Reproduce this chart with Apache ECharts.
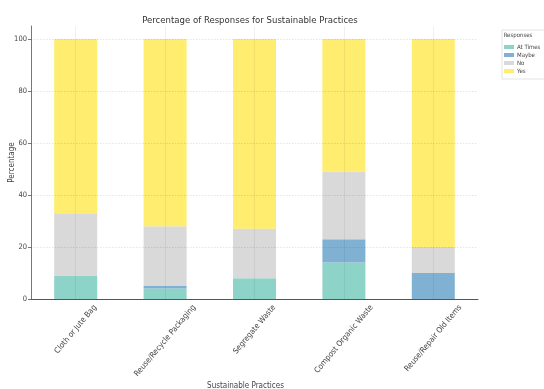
<!DOCTYPE html>
<html>
<head>
<meta charset="utf-8">
<script src="https://cdn.jsdelivr.net/npm/echarts@6/dist/echarts.min.js"></script>
<style>
  html, body { margin: 0; padding: 0; background: #fff; }
  #chart { width: 544px; height: 389px; }
</style>
</head>
<body>
<div id="chart"></div>
<script>
// Survey practices and stacked response shares (percent)
const practices = ['Cloth or Jute Bag', 'Reuse/Recycle Packaging', 'Segregate Waste', 'Compost Organic Waste', 'Reuse/Repair Old Items'];
const responseNames = ['At Times', 'Maybe', 'No', 'Yes'];
const atTimes = [9, 4, 8, 14, 0];
const maybe   = [0, 1, 0, 9, 10];
const no      = [24, 23, 19, 26, 10];
const yes     = [67, 72, 73, 51, 80];
const yTicks  = [20, 40, 60, 80, 100];

const colors = ['#8dd3c7', '#80b1d3', '#d9d9d9', '#ffed6f'];
const seriesValues = [atTimes, maybe, no, yes];

const FONT = '"Liberation Sans Narrow", "DejaVu Sans Condensed", sans-serif';
const LABEL_SIZE = 8;
const LABEL_ROT = 50 * Math.PI / 180;
const LABEL_PAD = 4;

const measureCtx = document.createElement('canvas').getContext('2d');
measureCtx.font = LABEL_SIZE + 'px ' + FONT;

// grid lines sit on top of the bars
const gridLines = [];
yTicks.forEach(v => gridLines.push({ yAxis: v, lineStyle: { type: [1.5, 1.5], color: 'rgba(0,0,0,0.13)', width: 0.8 } }));
practices.forEach(p => gridLines.push({ xAxis: p, lineStyle: { type: 'solid', color: 'rgba(0,0,0,0.08)', width: 0.8 } }));

const series = responseNames.map((name, i) => {
  const s = {
    name: name,
    type: 'bar',
    stack: 'total',
    barWidth: 43,
    data: seriesValues[i],
    itemStyle: { color: colors[i] },
    emphasis: { disabled: true }
  };
  if (i === responseNames.length - 1) {
    s.markLine = {
      silent: true,
      symbol: ['none', 'none'],
      label: { show: false },
      animation: false,
      data: gridLines
    };
  }
  return s;
});

// Rotated category labels: each rotated box is centred under its tick,
// with its top edge just below the axis line.
series.push({
  type: 'custom',
  name: 'categoryLabels',
  silent: true,
  clip: false,
  data: practices.map((p, i) => [i, 0]),
  renderItem: function (params, api) {
    const idx = api.value(0);
    const pt = api.coord([idx, 0]);
    const text = practices[idx];
    const w = measureCtx.measureText(text).width;
    const h = LABEL_SIZE * 1.15;
    const boxH = w * Math.sin(LABEL_ROT) + h * Math.cos(LABEL_ROT);
    return {
      type: 'text',
      x: pt[0],
      y: pt[1] + LABEL_PAD + boxH / 2,
      rotation: LABEL_ROT,
      style: {
        text: text,
        align: 'center',
        verticalAlign: 'middle',
        fontFamily: FONT,
        fontSize: LABEL_SIZE,
        fill: '#444'
      }
    };
  }
});

const chart = echarts.init(document.getElementById('chart'), null, { renderer: 'canvas' });
chart.setOption({
  animation: false,
  color: colors,
  title: [
    {
      text: 'Percentage of Responses for Sustainable Practices',
      left: 245, top: 11, textAlign: 'center',
      textStyle: { fontFamily: FONT, fontSize: 9.5, fontWeight: 'normal', color: '#333' }
    },
    {
      text: 'Responses',
      left: 518, top: 32, textAlign: 'center', padding: 0,
      textStyle: { fontFamily: FONT, fontSize: 6, fontWeight: 'normal', color: '#444' }
    }
  ],
  legend: {
    data: responseNames,
    orient: 'vertical',
    left: 502, top: 30,
    padding: [14, 12, 5, 2],
    itemGap: 2,
    itemWidth: 10, itemHeight: 4,
    icon: 'rect',
    borderColor: '#ddd', borderWidth: 0.8,
    textStyle: { fontFamily: FONT, fontSize: 6, color: '#444', padding: [0, 0, 0, -2] }
  },
  grid: { left: 31, right: 66, top: 26, bottom: 90, outerBoundsMode: 'none', containLabel: false },
  xAxis: {
    type: 'category',
    data: practices,
    name: 'Sustainable Practices',
    nameLocation: 'middle',
    nameGap: 83,
    nameMoveOverlap: false,
    nameTextStyle: { fontFamily: FONT, fontSize: 8, color: '#444', padding: [0, 18, 0, 0] },
    axisLine: { lineStyle: { color: '#555', width: 1 } },
    axisTick: { alignWithLabel: true, length: 3, lineStyle: { color: '#555' } },
    axisLabel: { show: false },
    splitLine: { show: false }
  },
  yAxis: {
    type: 'value',
    min: 0, max: 105, interval: 20,
    name: 'Percentage',
    nameLocation: 'middle',
    nameGap: 15,
    nameMoveOverlap: false,
    nameTextStyle: { fontFamily: FONT, fontSize: 8, color: '#444' },
    axisLine: { show: true, lineStyle: { color: '#777', width: 1 } },
    axisTick: { show: true, length: 3, lineStyle: { color: '#777' } },
    axisLabel: {
      fontFamily: FONT, fontSize: 7.5, color: '#444', margin: 4, showMaxLabel: false,
      formatter: v => (v % 20 === 0 ? String(v) : '')
    },
    splitLine: { show: false }
  },
  series: series
});
</script>
</body>
</html>
